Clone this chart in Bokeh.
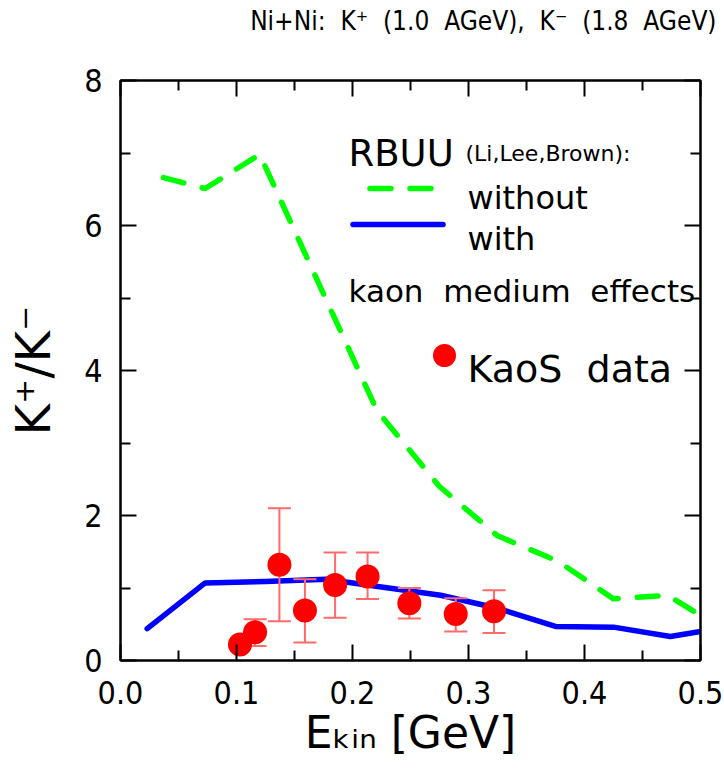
from bokeh.plotting import figure
from bokeh.models import Range1d, FixedTicker, LinearAxis, Label, PrintfTickFormatter
from bokeh.embed import file_html
from bokeh.resources import INLINE

# ---------------- data ----------------
# RBUU (Li, Lee, Brown) with kaon medium effects
with_x = [0.023, 0.073, 0.125, 0.177, 0.276, 0.325, 0.375, 0.425, 0.474, 0.500]
with_y = [0.44, 1.07, 1.09, 1.12, 0.90, 0.72, 0.47, 0.46, 0.33, 0.40]
# RBUU without kaon medium effects
without_x = [0.037, 0.073, 0.120, 0.221, 0.275, 0.325, 0.377, 0.425, 0.472, 0.500]
without_y = [6.66, 6.51, 6.98, 3.45, 2.40, 1.72, 1.37, 0.85, 0.90, 0.62]
# KaoS data with error bars
kaos_x = [0.103, 0.116, 0.137, 0.159, 0.185, 0.213, 0.249, 0.289, 0.322]
kaos_y = [0.22, 0.39, 1.32, 0.69, 1.04, 1.16, 0.79, 0.64, 0.68]
kaos_lo = [0.22, 0.20, 0.54, 0.25, 0.59, 0.85, 0.58, 0.40, 0.38]
kaos_hi = [0.22, 0.57, 2.10, 1.12, 1.49, 1.49, 1.00, 0.86, 0.97]

x_major = [0.0, 0.1, 0.2, 0.3, 0.4, 0.5]
x_minor = [0.05, 0.15, 0.25, 0.35, 0.45]
y_major = [0, 2, 4, 6, 8]
y_minor = [1, 3, 5, 7]

TITLE = "Ni+Ni:\u00a0 K\u207a\u00a0 (1.0\u00a0 AGeV),\u00a0 K\u207b\u00a0 (1.8\u00a0 AGeV)"
XLABEL = "E\u2096\u1d62\u2099 [GeV]"
YLABEL = "K\u207a/K\u207b"

FONT = "DejaVu Sans"
FONT_C = "DejaVu Sans Condensed"

# ---------------- figure ----------------
p = figure(width=724, height=778, x_range=Range1d(0, 0.5), y_range=Range1d(0, 8),
           output_backend="svg", toolbar_location=None,
           min_border_left=120, min_border_right=24, min_border_top=80, min_border_bottom=118)
p.grid.visible = False
p.outline_line_color = "black"
p.outline_line_width = 2
p.background_fill_color = "white"
p.border_fill_color = "white"

p.title.text = TITLE
p.title.text_font = FONT_C
p.title.text_font_size = "26px"
p.title.text_font_style = "normal"
p.title.text_color = "black"
p.title.align = "right"
p.title.offset = -16
p.title.standoff = 0

xt = FixedTicker(ticks=x_major, minor_ticks=x_minor)
yt = FixedTicker(ticks=y_major, minor_ticks=y_minor)


def style(ax, show):
    ax.axis_line_width = 2
    ax.axis_line_color = "black"
    ax.major_tick_in = 16
    ax.major_tick_out = 0
    ax.minor_tick_in = 10
    ax.minor_tick_out = 0
    ax.major_tick_line_width = 2
    ax.minor_tick_line_width = 2
    ax.major_tick_line_color = "black"
    ax.minor_tick_line_color = "black"
    if show:
        ax.major_label_text_font = FONT_C
        ax.major_label_text_font_size = "32px"
        ax.major_label_text_color = "black"
        ax.axis_label_text_font = FONT
        ax.axis_label_text_font_style = "normal"
        ax.axis_label_text_color = "black"
    else:
        ax.major_label_text_font_size = "0px"
        ax.major_label_text_alpha = 0
        ax.major_label_standoff = 0


xa = p.xaxis[0]
xa.ticker = xt
xa.formatter = PrintfTickFormatter(format="%.1f")
style(xa, True)
xa.major_label_standoff = 20
xa.axis_label = XLABEL
xa.axis_label_text_font_size = "44px"
xa.axis_label_standoff = 0

ya = p.yaxis[0]
ya.ticker = yt
ya.formatter = PrintfTickFormatter(format="%d")
style(ya, True)
ya.major_label_standoff = 18
ya.axis_label = YLABEL
ya.axis_label_text_font_size = "48px"
ya.axis_label_standoff = 20

# top axis: ticks only; an empty spacer label lifts the title to the page top
top = LinearAxis(ticker=xt)
style(top, False)
top.axis_label = "\u00a0"
top.axis_label_text_font_size = "20px"
top.axis_label_text_alpha = 0
top.axis_label_standoff = 20
p.add_layout(top, "above")
right = LinearAxis(ticker=yt)
style(right, False)
p.add_layout(right, "right")

# ---------------- curves and data ----------------
GREEN = "#00ff00"
BLUE = "#0000ff"
RED = "#ff0000"
ERR = "#ff6a6a"

p.line(without_x, without_y, line_color=GREEN, line_width=5.5, line_dash="21 19",
       line_cap="round", line_join="round")
p.line(with_x, with_y, line_color=BLUE, line_width=5.5, line_cap="round", line_join="round")

p.segment(x0=kaos_x, y0=kaos_lo, x1=kaos_x, y1=kaos_hi, line_color=ERR, line_width=2)
p.scatter(kaos_x, kaos_lo, marker="dash", size=23, line_color=ERR, line_width=2)
p.scatter(kaos_x, kaos_hi, marker="dash", size=23, line_color=ERR, line_width=2)
p.scatter(kaos_x, kaos_y, marker="circle", size=24, fill_color=RED, line_color=None)


# ---------------- legend block (positions in pixels of the 724x778 page) ----------------
def dx(px):
    return (px - 120) / 1160.0


def dy(py):
    return (660 - py) / 72.5


def lab(px, py, text, size, font=FONT):
    p.add_layout(Label(x=dx(px), y=dy(py), text=text, text_font=font,
                       text_font_size=f"{size}px", text_color="black",
                       text_align="left", text_baseline="alphabetic"))


lab(348, 153, "RBUU", 37)
lab(465, 153, "(Li,Lee,Brown):", 22)
p.line([dx(369.5), dx(431)], [dy(188), dy(188)], line_color=GREEN, line_width=5.5,
       line_dash="21 19", line_cap="round")
lab(467, 197, "without", 32)
p.line([dx(352.5), dx(442.5)], [dy(224), dy(224)], line_color=BLUE, line_width=5.5,
       line_cap="round")
lab(467, 238, "with", 32)
lab(348, 290, "kaon\u00a0 medium\u00a0 effects", 31)
p.scatter([dx(444)], [dy(355)], marker="circle", size=23, fill_color=RED, line_color=None)
lab(467, 368, "KaoS\u00a0 data", 38)

open("out.html", "w").write(file_html(p, INLINE))
